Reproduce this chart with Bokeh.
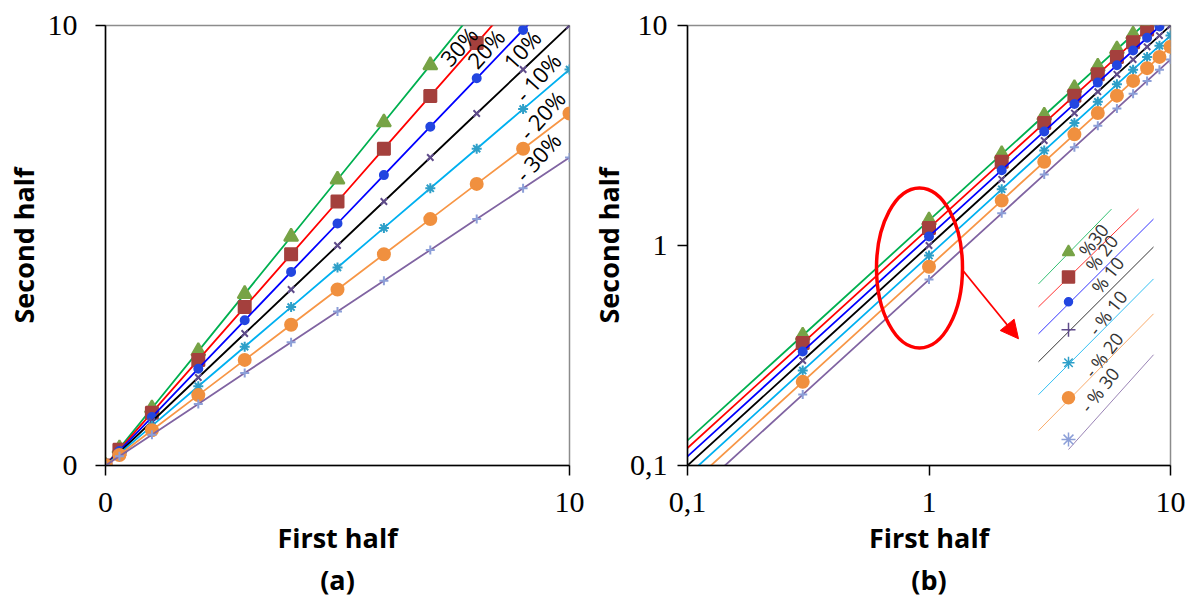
from bokeh.plotting import figure
from bokeh.layouts import row
from bokeh.models import Range1d, FixedTicker, Title, Arrow, NormalHead, CustomJSTickFormatter
from bokeh.core.properties import value
from bokeh.embed import file_html
from bokeh.resources import INLINE

# ---------------- data ----------------
x_vals = [0, 0.3, 1, 2, 3, 4, 5, 6, 7, 8, 9, 10]
s_p30 = [0, 0.39, 1.3, 2.6, 3.9, 5.2, 6.5, 7.8, 9.1, 10.4, 11.7, 13.0]
s_p20 = [0, 0.36, 1.2, 2.4, 3.6, 4.8, 6.0, 7.2, 8.4, 9.6, 10.8, 12.0]
s_p10 = [0, 0.33, 1.1, 2.2, 3.3, 4.4, 5.5, 6.6, 7.7, 8.8, 9.9, 11.0]
s_0 = [0, 0.3, 1, 2, 3, 4, 5, 6, 7, 8, 9, 10]
s_m10 = [0, 0.27, 0.9, 1.8, 2.7, 3.6, 4.5, 5.4, 6.3, 7.2, 8.1, 9.0]
s_m20 = [0, 0.24, 0.8, 1.6, 2.4, 3.2, 4.0, 4.8, 5.6, 6.4, 7.2, 8.0]
s_m30 = [0, 0.21, 0.7, 1.4, 2.1, 2.8, 3.5, 4.2, 4.9, 5.6, 6.3, 7.0]
# log panel: lines start at x = 0.1
x_log_start = 0.1
y_log_start = [0.13, 0.12, 0.11, 0.10, 0.09, 0.08, 0.07]

series_labels = ["30%", "20%", "10%", "", "- 10%", "- 20%", "- 30%"]
inset_labels = ["%30", "% 20", "% 10", "- % 10", "- % 20", "- % 30", ""]
lin_ticks = [0, 10]
log_ticks = [0.1, 1, 10]

series = [s_p30, s_p20, s_p10, s_0, s_m10, s_m20, s_m30]

# ---------------- styles ----------------
line_colors = ["#00B050", "#FF0000", "#0000FF", "#000000", "#00B0F0", "#F79646", "#8064A2"]
mk_types = ["triangle", "square", "circle", "x", "asterisk", "circle", "cross"]
mk_colors = ["#77A346", "#A4403D", "#2346E0", "#5F4B8B", "#2E9FC8", "#F0903F", "#8C9FD8"]
mk_sizes = [14, 12, 8, 9, 10, 12, 9]

# label layout (data coords of left panel)
lab_pos_x = [7.61, 8.19, 8.97, None, 9.31, 9.40, 9.31]
lab_pos_y = [9.53, 9.48, 9.46, None, 8.83, 7.97, 7.02]

TICK_FONT = "Liberation Serif"
LAB_FONT = "Open Sans"


def style(p, ticks, ytick_standoff, ylab_standoff):
    p.xgrid.visible = False
    p.ygrid.visible = False
    p.outline_line_color = "#8c8c8c"
    p.outline_line_width = 1.5
    p.background_fill_color = "white"
    p.border_fill_color = "white"
    for ax in (p.xaxis[0], p.yaxis[0]):
        ax.ticker = FixedTicker(ticks=ticks)
        ax.axis_line_color = "black"
        ax.axis_line_width = 1.5
        ax.major_tick_line_color = "black"
        ax.major_tick_line_width = 1.5
        ax.major_tick_out = 10
        ax.major_tick_in = 0
        ax.minor_tick_out = 0
        ax.minor_tick_in = 0
        ax.major_label_text_font = TICK_FONT
        ax.major_label_text_font_size = "30px"
        ax.major_label_text_color = "black"
        ax.axis_label_text_font = LAB_FONT
        ax.axis_label_text_font_style = "bold"
        ax.axis_label_text_font_size = "27px"
        ax.axis_label_text_color = "black"
    p.xaxis[0].axis_label = "First half"
    p.xaxis[0].axis_label_standoff = 4
    p.xaxis[0].major_label_standoff = 17
    p.yaxis[0].axis_label = "Second half"
    p.yaxis[0].major_label_standoff = ytick_standoff
    p.yaxis[0].axis_label_standoff = ylab_standoff


# ---------------- panel (a) ----------------
pa = figure(width=586, height=599, x_range=Range1d(0, 10), y_range=Range1d(0, 10),
            output_backend="svg", toolbar_location=None,
            min_border_left=105, min_border_right=17, min_border_top=23, min_border_bottom=134)
style(pa, lin_ticks, 18, 3)
for ys, lc, mt, mc, ms in zip(series, line_colors, mk_types, mk_colors, mk_sizes):
    pa.line(x_vals, ys, line_color=lc, line_width=1.8)
    pa.scatter(x_vals, ys, marker=mt, size=ms, fill_color=mc, line_color=mc, line_width=2)
for lx, ly, t in zip(lab_pos_x, lab_pos_y, series_labels):
    if t:
        pa.text(x=[lx], y=[ly], text=[t], angle=48, angle_units="deg",
                text_font=value("Open Sans"), text_font_size="22px", text_color="black",
                text_align="center", text_baseline="middle")
pa.add_layout(Title(text="(a)", align="center", text_font=LAB_FONT, text_font_style="bold",
                    text_font_size="27px", text_color="black", standoff=0), "below")

# ---------------- panel (b) ----------------
pb = figure(width=601, height=599, x_axis_type="log", y_axis_type="log",
            x_range=Range1d(0.1, 10), y_range=Range1d(0.1, 10),
            output_backend="svg", toolbar_location=None,
            min_border_left=101, min_border_right=17, min_border_top=25, min_border_bottom=133)
style(pb, log_ticks, 10, 0)
fmt = CustomJSTickFormatter(code="return String(tick).replace('.', ',');")
pb.xaxis[0].formatter = fmt
pb.yaxis[0].formatter = fmt
for ys, y0, lc, mt, mc, ms in zip(series, y_log_start, line_colors, mk_types, mk_colors, mk_sizes):
    pb.line([x_log_start] + x_vals[1:], [y0] + ys[1:], line_color=lc, line_width=1.8)
    pb.scatter(x_vals[1:], ys[1:], marker=mt, size=ms, fill_color=mc, line_color=mc, line_width=2)


# annotation layout for panel (b): page-pixel positions (minus 600) mapped to data
def X(px):
    return 10 ** (-1 + (px - 87) / 241.5)


def Y(py):
    return 10 ** (-1 + (466 - py) / 220.5)


# red ellipse + arrow
pb.ellipse(x=[X(319)], y=[Y(268)], width=86, height=160, width_units="screen", height_units="screen",
           fill_color=None, line_color="#FF0000", line_width=3.5)
pb.add_layout(Arrow(end=NormalHead(size=18, fill_color="#FF0000", line_color="#FF0000"),
                    x_start=X(362), y_start=Y(270), x_end=X(418), y_end=Y(339),
                    line_color="#FF0000", line_width=1.8))

# inset legend (scanned-look)
ins_line_start = [(438, 284), (438, 307), (438, 334), (438, 362), (438, 395), (438, 431), (468, 450)]
ins_line_end = [(511, 209), (538, 209), (553, 219), (553, 247), (553, 279), (553, 314), (553, 355)]
ins_mk = [(468, 252), (468, 277), (468, 302), (468, 330), (468, 363), (468, 398), (468, 440)]
ins_lab = [(493, 240), (501, 253), (507, 275), (507, 313), (503, 355), (499, 390), None]
ins_mk_types = ["triangle", "square", "circle", "cross", "asterisk", "circle", "asterisk"]
ins_mk_sizes = [12, 12, 8, 14, 12, 12, 14]
for i in range(7):
    (x0, y0), (x1, y1) = ins_line_start[i], ins_line_end[i]
    pb.line([X(x0), X(x1)], [Y(y0), Y(y1)], line_color=line_colors[i], line_width=1, alpha=0.8)
    mx, my = ins_mk[i]
    pb.scatter([X(mx)], [Y(my)], marker=ins_mk_types[i], size=ins_mk_sizes[i],
               fill_color=mk_colors[i], line_color=mk_colors[i], line_width=1.5)
    if ins_lab[i]:
        lx, ly = ins_lab[i]
        pb.text(x=[X(lx)], y=[Y(ly)], text=[inset_labels[i]], angle=52, angle_units="deg",
                text_font=value("Open Sans"), text_font_size="18px", text_color="#333333",
                text_align="center", text_baseline="middle")

pb.add_layout(Title(text="(b)", align="center", text_font=LAB_FONT, text_font_style="bold",
                    text_font_size="27px", text_color="black", standoff=0), "below")

layout = row(pa, pb)
open("out.html", "w").write(file_html(layout, INLINE))
